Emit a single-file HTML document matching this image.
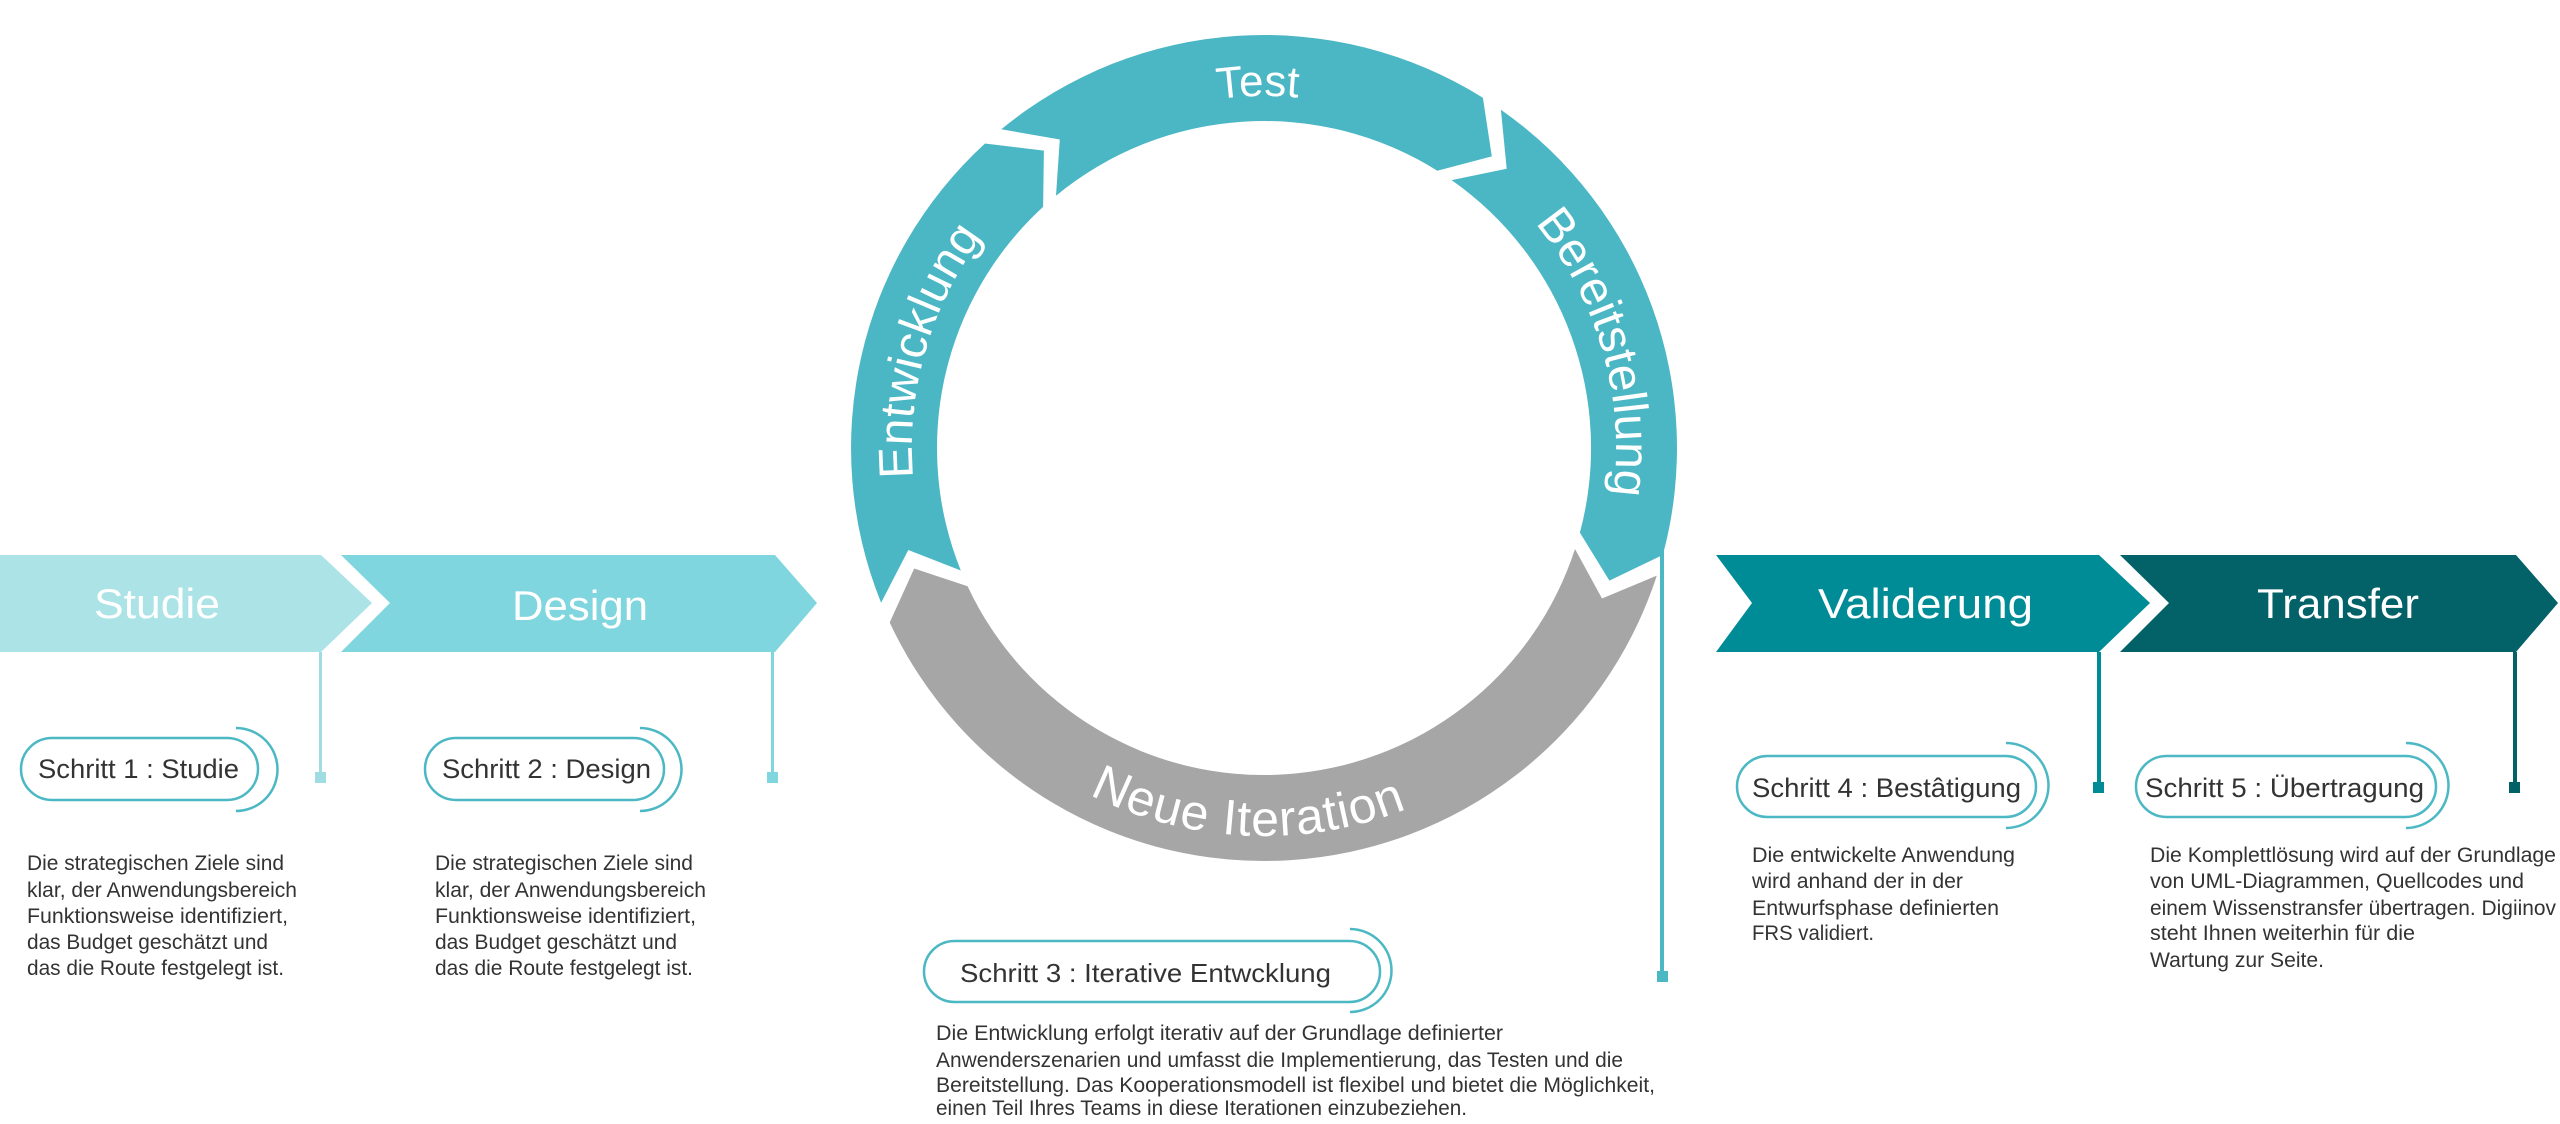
<!DOCTYPE html>
<html><head><meta charset="utf-8"><style>
html,body{margin:0;padding:0;background:#fff;}
svg{display:block;}
text{font-family:"Liberation Sans",sans-serif;}
.w{fill:#fff;}
.d{fill:#333;}
.p{fill:none;stroke:#4bb8c4;stroke-width:2.5;}
</style></head><body>
<svg id="s" width="2560" height="1124" viewBox="0 0 2560 1124" xmlns="http://www.w3.org/2000/svg">
<!-- left arrows -->
<polygon points="0,555 321,555 372,603 321,652 0,652" fill="#abe3e7"/>
<polygon points="341,555 775,555 817,603 775,652 341,652 390,603" fill="#7fd6de"/>
<polygon points="1716,555 2099,555 2150,603 2099,652 1716,652 1752,603" fill="#008c96"/>
<polygon points="2120,555 2516,555 2558,603 2516,652 2120,652 2169,603" fill="#036168"/>
<text class="w" x="94" y="618" font-size="42" textLength="126" lengthAdjust="spacingAndGlyphs">Studie</text>
<text class="w" x="512" y="620" font-size="42" textLength="136" lengthAdjust="spacingAndGlyphs">Design</text>
<text class="w" x="1818" y="618" font-size="42" textLength="215" lengthAdjust="spacingAndGlyphs">Validerung</text>
<text class="w" x="2257" y="618" font-size="42" textLength="162" lengthAdjust="spacingAndGlyphs">Transfer</text>
<!-- connectors -->
<rect x="319" y="652" width="3" height="124" fill="#9fdde3"/><rect x="315" y="772" width="11" height="11" fill="#9fdde3"/>
<rect x="771" y="652" width="3" height="124" fill="#7fd6de"/><rect x="767" y="772" width="11" height="11" fill="#7fd6de"/>
<rect x="2097" y="652" width="4" height="132" fill="#008c96"/><rect x="2093" y="782" width="11" height="11" fill="#008c96"/>
<rect x="2513" y="652" width="4" height="132" fill="#036168"/><rect x="2509" y="782" width="11" height="11" fill="#036168"/>
<rect x="1660" y="550" width="4" height="425" fill="#4bb8c4"/><rect x="1657" y="971" width="11" height="11" fill="#4bb8c4"/>
<!-- pills -->
<rect class="p" x="21" y="738" width="237" height="62" rx="31"/><path class="p" d="M236,728 A41.5,41.5 0 0 1 236,811"/>
<text class="d" x="38" y="778" font-size="27" textLength="201" lengthAdjust="spacingAndGlyphs">Schritt 1 : Studie</text>
<rect class="p" x="425" y="738" width="239" height="62" rx="31"/><path class="p" d="M640,728 A41.5,41.5 0 0 1 640,811"/>
<text class="d" x="442" y="778" font-size="27" textLength="209" lengthAdjust="spacingAndGlyphs">Schritt 2 : Design</text>
<rect class="p" x="1737" y="756" width="299" height="61" rx="30.5"/><path class="p" d="M2006,743 A42.5,42.5 0 0 1 2006,828"/>
<text class="d" x="1752" y="797" font-size="27" textLength="269" lengthAdjust="spacingAndGlyphs">Schritt 4 : Bestâtigung</text>
<rect class="p" x="2136" y="756" width="300" height="61" rx="30.5"/><path class="p" d="M2406,743 A42.5,42.5 0 0 1 2406,828"/>
<text class="d" x="2145" y="797" font-size="27" textLength="279" lengthAdjust="spacingAndGlyphs">Schritt 5 : Übertragung</text>
<rect class="p" x="924" y="941" width="456" height="61" rx="30.5"/><path class="p" d="M1350,929 A41.5,41.5 0 0 1 1350,1012"/>
<text class="d" x="960" y="982" font-size="26" textLength="371" lengthAdjust="spacingAndGlyphs">Schritt 3 : Iterative Entwcklung</text>
<!-- paragraphs -->
<g class="d" font-size="21">
<text x="27" y="870" textLength="257" lengthAdjust="spacingAndGlyphs">Die strategischen Ziele sind</text>
<text x="27" y="897" textLength="270" lengthAdjust="spacingAndGlyphs">klar, der Anwendungsbereich</text>
<text x="27" y="923" textLength="261" lengthAdjust="spacingAndGlyphs">Funktionsweise identifiziert,</text>
<text x="27" y="949" textLength="241" lengthAdjust="spacingAndGlyphs">das Budget geschätzt und</text>
<text x="27" y="975" textLength="257" lengthAdjust="spacingAndGlyphs">das die Route festgelegt ist.</text>
<text x="435" y="870" textLength="258" lengthAdjust="spacingAndGlyphs">Die strategischen Ziele sind</text>
<text x="435" y="897" textLength="271" lengthAdjust="spacingAndGlyphs">klar, der Anwendungsbereich</text>
<text x="435" y="923" textLength="261" lengthAdjust="spacingAndGlyphs">Funktionsweise identifiziert,</text>
<text x="435" y="949" textLength="242" lengthAdjust="spacingAndGlyphs">das Budget geschätzt und</text>
<text x="435" y="975" textLength="258" lengthAdjust="spacingAndGlyphs">das die Route festgelegt ist.</text>
<text x="1752" y="862" textLength="263" lengthAdjust="spacingAndGlyphs">Die entwickelte Anwendung</text>
<text x="1752" y="888" textLength="211" lengthAdjust="spacingAndGlyphs">wird anhand der in der</text>
<text x="1752" y="915" textLength="247" lengthAdjust="spacingAndGlyphs">Entwurfsphase definierten</text>
<text x="1752" y="940" textLength="122" lengthAdjust="spacingAndGlyphs">FRS validiert.</text>
<text x="2150" y="862" textLength="406" lengthAdjust="spacingAndGlyphs">Die Komplettlösung wird auf der Grundlage</text>
<text x="2150" y="888" textLength="374" lengthAdjust="spacingAndGlyphs">von UML-Diagrammen, Quellcodes  und</text>
<text x="2150" y="915" textLength="406" lengthAdjust="spacingAndGlyphs">einem Wissenstransfer übertragen. Digiinov</text>
<text x="2150" y="940" textLength="265" lengthAdjust="spacingAndGlyphs">steht Ihnen weiterhin für die</text>
<text x="2150" y="967" textLength="174" lengthAdjust="spacingAndGlyphs">Wartung zur Seite.</text>
<text x="936" y="1040" textLength="567" lengthAdjust="spacingAndGlyphs">Die Entwicklung erfolgt iterativ auf der Grundlage definierter</text>
<text x="936" y="1067" textLength="687" lengthAdjust="spacingAndGlyphs">Anwenderszenarien und umfasst die Implementierung, das Testen und die</text>
<text x="936" y="1092" textLength="719" lengthAdjust="spacingAndGlyphs">Bereitstellung. Das Kooperationsmodell ist flexibel und bietet die Möglichkeit,</text>
<text x="936" y="1115" textLength="531" lengthAdjust="spacingAndGlyphs">einen Teil Ihres Teams in diese Iterationen einzubeziehen.</text>
</g>
<!-- cycle -->
<defs>
<path id="t1" d=""/><path id="t2" d=""/><path id="t3" d=""/><path id="t4" d=""/>
</defs>
<path id="g1" fill="#4bb7c4" d=""/>
<path id="g2" fill="#4bb7c4" d=""/>
<path id="g3" fill="#4bb7c4" d=""/>
<path id="g4" fill="#a6a6a6" d=""/>
<text class="w" font-size="48"><textPath href="#t1" startOffset="50%" text-anchor="middle">Entwicklung</textPath></text>
<text class="w" font-size="44"><textPath href="#t2" startOffset="50%" text-anchor="middle">Test</textPath></text>
<text class="w" font-size="48"><textPath href="#t3" startOffset="50%" text-anchor="middle">Bereitstellung</textPath></text>
<text class="w" font-size="50" letter-spacing="1"><textPath href="#t4" startOffset="50%" text-anchor="middle">Neue Iteration</textPath></text>
</svg>
<script>
(function(){
var cx=1264,cy=448,Ro=413,Ri=327,Rm=370,d=6;
function P(r,a){a=a*Math.PI/180;return (cx+r*Math.cos(a)).toFixed(1)+","+(cy-r*Math.sin(a)).toFixed(1);}
function seg(s,e){
 var large=(s-e)>180?1:0;
 return "M"+P(Ro,s)+" A"+Ro+","+Ro+" 0 "+large+" 1 "+P(Ro,e)+" L"+P(Rm,e-d)+" L"+P(Ri,e)+" A"+Ri+","+Ri+" 0 "+large+" 0 "+P(Ri,s)+" L"+P(Rm,s-d)+" Z";
}
document.getElementById("g1").setAttribute("d",seg(202,132.5));
document.getElementById("g2").setAttribute("d",seg(129.5,58));
document.getElementById("g3").setAttribute("d",seg(55,-15));
document.getElementById("g4").setAttribute("d",seg(-18,-155));
function cw(id,c,r,s){document.getElementById(id).setAttribute("d","M"+P(r,c+s)+" A"+r+","+r+" 0 0 1 "+P(r,c-s));}
cw("t1",164,352,45);cw("t2",91,352,40);cw("t3",16,352,45);
var r=388,c=267.5,s=45;
document.getElementById("t4").setAttribute("d","M"+P(r,c-s)+" A"+r+","+r+" 0 0 0 "+P(r,c+s));
})();
</script>
</body></html>
